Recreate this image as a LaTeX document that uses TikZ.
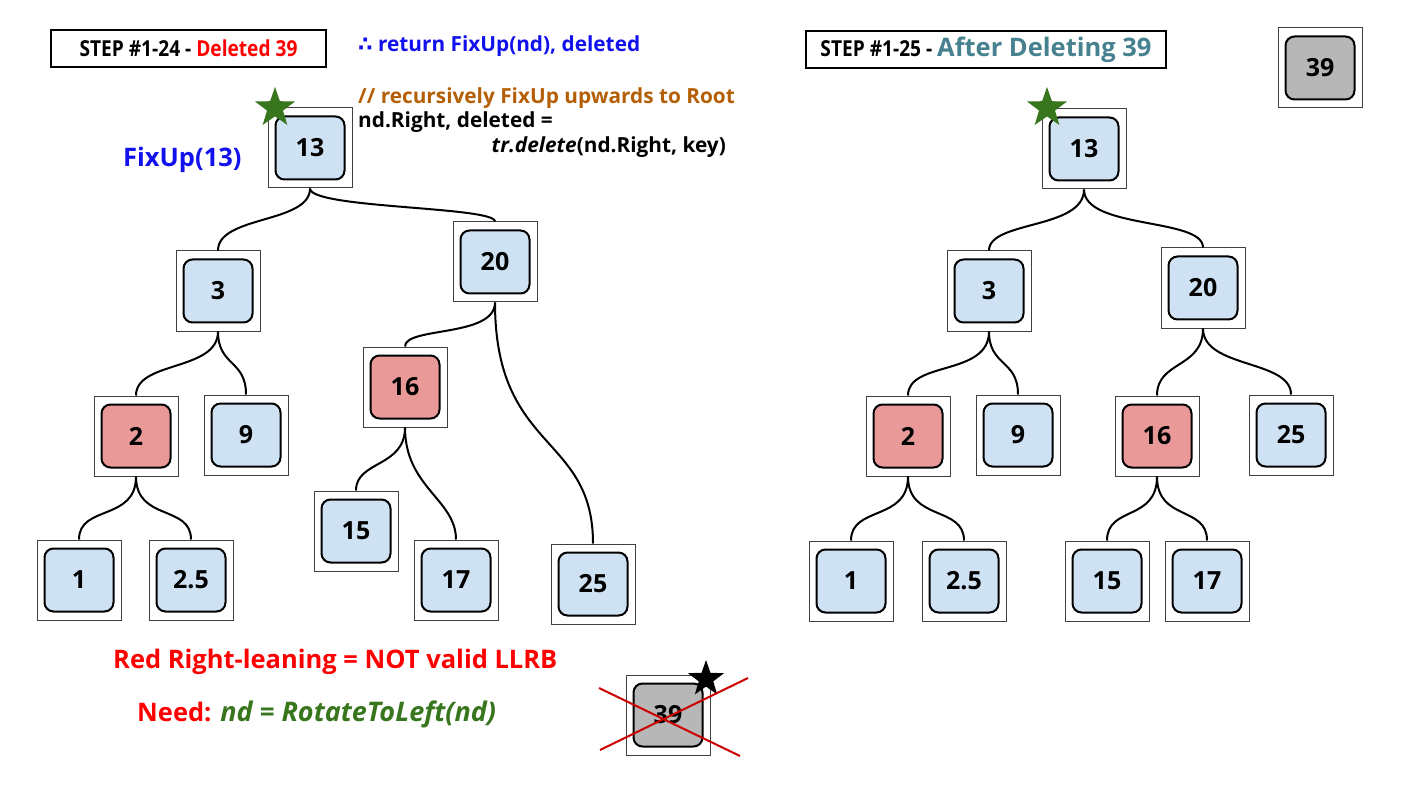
\documentclass[tikz,border=0pt]{standalone}
\usepackage{fontspec}
\setmainfont{Open Sans}
\newfontfamily\djv{DejaVu Sans}
\newfontfamily\condfont[FakeStretch=0.87]{Open Sans}
\usetikzlibrary{shapes.geometric}
\definecolor{nblue}{HTML}{CFE2F3}
\definecolor{nred}{HTML}{EA9999}
\definecolor{ngray}{HTML}{B7B7B7}
\definecolor{tbrown}{HTML}{B45F06}
\definecolor{tteal}{HTML}{45818E}
\definecolor{tgreen}{HTML}{38761D}
\definecolor{xred}{HTML}{CC0000}
\definecolor{tblue}{HTML}{1111EE}
\tikzset{
  outerbox/.style={draw=black!75, line width=1pt, fill=white, minimum width=84pt, minimum height=80pt, inner sep=0pt},
  innerbox/.style={draw=black, line width=2pt, rounded corners=9pt, minimum width=69pt, minimum height=63pt, inner sep=0pt, font=\fontsize{25}{29}\selectfont\bfseries},
  edge/.style={line width=2pt, black},
  lbl/.style={inner sep=0pt, anchor=west, font=\fontsize{20.8}{24}\selectfont\bfseries},
  biglbl/.style={inner sep=0pt, anchor=west, font=\fontsize{25.5}{29}\selectfont\bfseries},
  stepbox/.style={draw=black, line width=1.5pt, inner sep=0pt},
  greenstar/.style={star, star points=5, star point ratio=2.5, fill=tgreen, draw=none, minimum size=42pt, inner sep=0pt},
  blackstar/.style={star, star points=5, star point ratio=2.5, fill=black, draw=none, minimum size=38pt, inner sep=0pt},
  xline/.style={draw=xred, line width=2pt}
}
\newcommand{\tnode}[5]{%
  \node[outerbox] (#1) at (#2,#3) {};
  \node[innerbox, fill=#5] (#1-in) at (#1) {#4};
}
\begin{document}
\begin{tikzpicture}[x=1pt,y=-1pt]
\useasboundingbox (0,0) rectangle (1415,791);
% ---------------- Left tree ----------------
\tnode{a13}{310}{148}{13}{nblue}
\tnode{a3}{218}{291}{3}{nblue}
\tnode{a20}{495}{262}{20}{nblue}
\tnode{a2}{136}{436}{2}{nred}
\tnode{a9}{246}{435}{9}{nblue}
\tnode{a16}{405}{387}{16}{nred}
\tnode{a1}{79}{580}{1}{nblue}
\tnode{a25b}{191}{580}{2.5}{nblue}
\tnode{a15}{356}{531}{15}{nblue}
\tnode{a17}{456}{580}{17}{nblue}
\tnode{a25}{593}{584}{25}{nblue}
\tnode{a39}{668}{715}{39}{ngray}

\draw[edge] (a13.south) .. controls +(0,35) and +(0,-35) .. (a3.north);
\draw[edge] (a13.south) .. controls +(0,20) and +(0,-15) .. (a20.north);
\draw[edge] (a3.south) .. controls +(0,40) and +(0,-35) .. (a2.north);
\draw[edge] (a3.south) .. controls +(0,35) and +(0,-35) .. (a9.north);
\draw[edge] (a20.south) .. controls +(0,35) and +(0,-20) .. (a16.north);
\draw[edge] (a20.south) .. controls +(0,150) and +(0,-110) .. (a25.north);
\draw[edge] (a2.south) .. controls +(0,45) and +(0,-35) .. (a1.north);
\draw[edge] (a2.south) .. controls +(0,45) and +(0,-35) .. (a25b.north);
\draw[edge] (a16.south) .. controls +(0,40) and +(0,-30) .. (a15.north);
\draw[edge] (a16.south) .. controls +(0,60) and +(0,-40) .. (a17.north);

\node[greenstar] (s1) at (275,108) {};
\node[blackstar] (s2) at (706,679) {};
\coordinate (x1a) at (599,688);
\coordinate (x1b) at (740,756);
\coordinate (x2a) at (600,750);
\coordinate (x2b) at (748,678);
\draw[xline] (x1a) -- (x1b);
\draw[xline] (x2a) -- (x2b);

% labels left
\node[stepbox, minimum width=275pt, minimum height=37pt] (st1) at (188.5,48.5) {\condfont\fontsize{22}{25}\selectfont\bfseries STEP \#1-24 - \textcolor{red}{Deleted 39}};
\node[lbl, text=tblue] (t1) at (358,46) {{\djv ∴} return FixUp(nd), deleted};
\node[lbl, text=tbrown] (t2) at (358,98) {// recursively FixUp upwards to Root};
\node[lbl] (t3) at (358,122) {nd.Right, deleted =};
\node[lbl, anchor=east] (t4) at (726,147) {\itshape tr.delete\upshape(nd.Right, key)};
\node[biglbl, text=tblue] (t5) at (123,160) {FixUp(13)};
\node[biglbl, text=red] (t6) at (113,662) {Red Right-leaning = NOT valid LLRB};
\node[biglbl, text=red] (t7) at (137,714) {Need: \textcolor{tgreen}{\fontsize{27}{30}\selectfont\itshape nd = RotateToLeft(nd)}};

% ---------------- Right tree ----------------
\tnode{b13}{1084}{149}{13}{nblue}
\tnode{b3}{989}{291}{3}{nblue}
\tnode{b20}{1203}{288}{20}{nblue}
\tnode{b2}{908}{436}{2}{nred}
\tnode{b9}{1018}{435}{9}{nblue}
\tnode{b16}{1157}{436}{16}{nred}
\tnode{b25}{1291}{435}{25}{nblue}
\tnode{b1}{851}{581}{1}{nblue}
\tnode{b25b}{964}{581}{2.5}{nblue}
\tnode{b15}{1107}{581}{15}{nblue}
\tnode{b17}{1207}{581}{17}{nblue}
\tnode{b39}{1320}{68}{39}{ngray}

\draw[edge] (b13.south) .. controls +(0,40) and +(0,-30) .. (b3.north);
\draw[edge] (b13.south) .. controls +(0,40) and +(0,-30) .. (b20.north);
\draw[edge] (b3.south) .. controls +(0,45) and +(0,-35) .. (b2.north);
\draw[edge] (b3.south) .. controls +(0,35) and +(0,-35) .. (b9.north);
\draw[edge] (b20.south) .. controls +(0,40) and +(0,-35) .. (b16.north);
\draw[edge] (b20.south) .. controls +(0,40) and +(0,-35) .. (b25.north);
\draw[edge] (b2.south) .. controls +(0,45) and +(0,-35) .. (b1.north);
\draw[edge] (b2.south) .. controls +(0,45) and +(0,-35) .. (b25b.north);
\draw[edge] (b16.south) .. controls +(0,45) and +(0,-35) .. (b15.north);
\draw[edge] (b16.south) .. controls +(0,45) and +(0,-35) .. (b17.north);

\node[greenstar] (s3) at (1047,108) {};
\node[stepbox, minimum width=360pt, minimum height=37pt] (st2) at (986,49.5) {\condfont\fontsize{22}{25}\selectfont\bfseries STEP \#1-25 - \textcolor{tteal}{\rmfamily\bfseries\fontsize{25.5}{29}\selectfont After Deleting 39}};
\end{tikzpicture}
\end{document}
